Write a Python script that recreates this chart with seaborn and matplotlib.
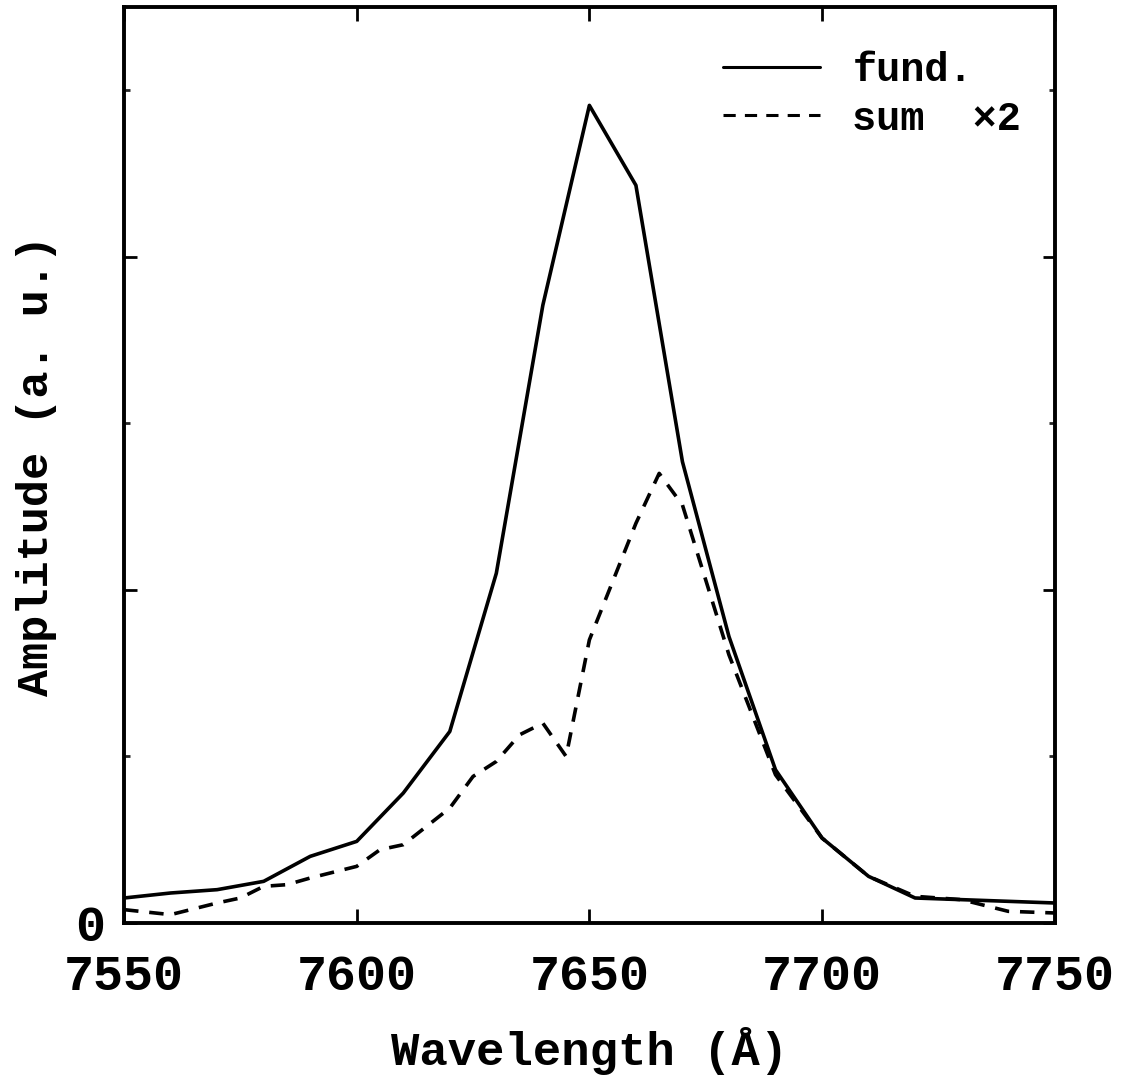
import matplotlib
matplotlib.use("Agg")
import matplotlib.pyplot as plt
import seaborn as sns
import pandas as pd

wl_fund = [7550, 7560, 7570, 7580, 7590, 7600, 7610, 7620, 7630, 7640, 7650,
           7660, 7670, 7680, 7690, 7700, 7710, 7720, 7730, 7740, 7750]
amp_fund = [0.15, 0.18, 0.20, 0.25, 0.40, 0.49, 0.78, 1.15, 2.10, 3.71, 4.91,
            4.43, 2.77, 1.72, 0.92, 0.51, 0.28, 0.15, 0.14, 0.13, 0.12]

wl_sum = [7550, 7560, 7570, 7575, 7580, 7585, 7590, 7600, 7605, 7610, 7620,
          7625, 7630, 7635, 7640, 7645, 7650, 7655, 7660, 7665, 7670, 7680,
          7690, 7700, 7710, 7720, 7730, 7740, 7750]
amp_sum = [0.08, 0.05, 0.12, 0.15, 0.22, 0.23, 0.27, 0.34, 0.44, 0.47, 0.69,
           0.88, 0.97, 1.13, 1.20, 1.00, 1.70, 2.05, 2.40, 2.70, 2.51, 1.61,
           0.89, 0.51, 0.28, 0.16, 0.14, 0.07, 0.06]

x_ticks = [7550, 7600, 7650, 7700, 7750]
y_major = [0, 2, 4]
y_minor = [1, 3, 5]

sns.set_style("ticks")
plt.rcParams['font.family'] = ['Liberation Mono', 'DejaVu Sans Mono']
plt.rcParams['font.weight'] = 'bold'
plt.rcParams['text.color'] = 'black'
plt.rcParams['axes.labelcolor'] = 'black'

fig = plt.figure(figsize=(11.28, 10.8), dpi=100)
ax = fig.add_axes([0.110, 0.1454, 0.825, 0.848])

df_f = pd.DataFrame({"wl": wl_fund, "amp": amp_fund})
df_s = pd.DataFrame({"wl": wl_sum, "amp": amp_sum})
sns.lineplot(data=df_f, x="wl", y="amp", ax=ax, color="black", lw=2.6,
             label="fund.")
sns.lineplot(data=df_s, x="wl", y="amp", ax=ax, color="black", lw=2.6,
             dashes=False, label="sum  ×2")
ax.lines[1].set_dashes((4, 3))

ax.set_xlim(7550, 7750)
ax.set_ylim(0, 5.5)
ax.set_xticks(x_ticks)
ax.set_xticklabels([str(v) for v in x_ticks])
ax.set_yticks(y_major)
ax.set_yticklabels(["0", "", ""])
ax.set_yticks(y_minor, minor=True)

for s in ax.spines.values():
    s.set_visible(True)
    s.set_linewidth(2.8)
    s.set_color("black")

ax.tick_params(axis="x", which="major", direction="in", top=True, bottom=True,
               length=10, width=2, labelsize=36, pad=22, colors="black")
ax.tick_params(axis="y", which="major", direction="in", left=True, right=True,
               length=9, width=2, labelsize=36, pad=14, colors="black")
ax.tick_params(axis="y", which="minor", direction="in", left=True, right=True,
               length=4.5, width=2)
for lab in ax.get_xticklabels() + ax.get_yticklabels():
    lab.set_fontweight("bold")

ax.set_xlabel("Wavelength (Å)", fontsize=34, labelpad=20, fontweight="bold")
ax.set_ylabel("Amplitude (a. u.)", fontsize=32.5, labelpad=13, fontweight="bold")

leg = ax.legend(loc="upper right", frameon=False,
                prop={"size": 29, "weight": "bold"},
                handlelength=2.4, handletextpad=0.8, labelspacing=0.25,
                bbox_to_anchor=(0.99, 0.978), borderaxespad=0.2)
for h in leg.get_lines():
    h.set_linewidth(2.2)
leg.get_lines()[1].set_dashes((4, 3))

fig.savefig("out.png", dpi=100, facecolor="white")
